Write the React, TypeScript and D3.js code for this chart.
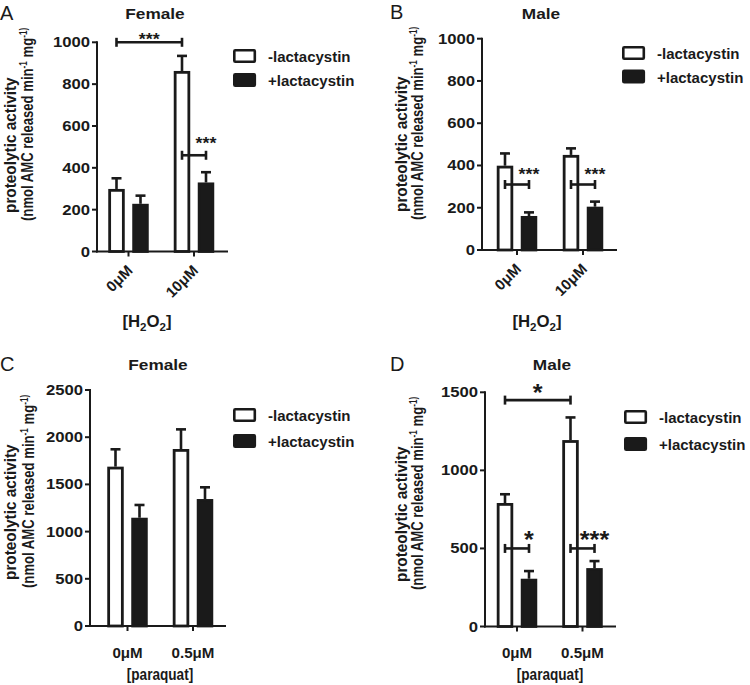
import React from "react";
import * as d3 from "d3";

// ---------- data ----------
const seriesNames = ["-lactacystin", "+lactacystin"];
const h2o2Categories = ["0μM", "10μM"];
const paraquatCategories = ["0μM", "0.5μM"];

const femaleH2O2Minus = [299, 863];
const femaleH2O2MinusErr = [51, 72];
const femaleH2O2Plus = [228, 330];
const femaleH2O2PlusErr = [39, 49];

const maleH2O2Minus = [399, 450];
const maleH2O2MinusErr = [58, 31];
const maleH2O2Plus = [161, 205];
const maleH2O2PlusErr = [17, 24];

const femaleParaquatMinus = [1688, 1875];
const femaleParaquatMinusErr = [184, 208];
const femaleParaquatPlus = [1147, 1345];
const femaleParaquatPlusErr = [135, 124];

const maleParaquatMinus = [791, 1194];
const maleParaquatMinusErr = [56, 145];
const maleParaquatPlus = [306, 374];
const maleParaquatPlusErr = [49, 45];

const ticksH2O2 = [0, 200, 400, 600, 800, 1000];
const ticksFemaleParaquat = [0, 500, 1000, 1500, 2000, 2500];
const ticksMaleParaquat = [0, 500, 1000, 1500];

// significance brackets: from (category c1, series s1) to (c2, s2) at value y
const sigFemaleH2O2 = [
  { c1: 0, s1: 0, c2: 1, s2: 0, y: 1000, label: "***", dy: 3 },
  { c1: 1, s1: 0, c2: 1, s2: 1, y: 460, label: "***", dy: -6 },
];
const sigMaleH2O2 = [
  { c1: 0, s1: 0, c2: 0, s2: 1, y: 310, label: "***", dy: -4 },
  { c1: 1, s1: 0, c2: 1, s2: 1, y: 310, label: "***", dy: -4 },
];
const sigFemaleParaquat: any[] = [];
const sigMaleParaquat = [
  { c1: 0, s1: 0, c2: 1, s2: 0, y: 1450, label: "*", dy: 1 },
  { c1: 0, s1: 0, c2: 0, s2: 1, y: 500, label: "*", dy: 0 },
  { c1: 1, s1: 0, c2: 1, s2: 1, y: 500, label: "***", dy: 0 },
];

// ---------- style ----------
const INK = "#1a1a1a";
const FONT = "'Liberation Sans', Arial, Helvetica, sans-serif";

function T({ x, y, size, sx = 1.15, anchor = "start", rotate = 0, weight = "bold", children }: any) {
  return (
    <text
      transform={`translate(${x},${y}) rotate(${rotate}) scale(${sx},1)`}
      fontSize={size}
      fontWeight={weight}
      textAnchor={anchor}
      fontFamily={FONT}
      fill={INK}
    >
      {children}
    </text>
  );
}

function Panel({ cfg, categories, minus, minusErr, plus, plusErr, ticks, sigs }: any) {
  const y = d3.scaleLinear().domain([0, cfg.yMax]).range([cfg.y0, cfg.yTop]);
  const x = d3.scalePoint<string>().domain(categories).range([cfg.cat0, cfg.cat1]);
  const off = d3.scalePoint<string>().domain(seriesNames).range([-12, 12]);
  const barW = 16.5;
  const sw = 2.8;
  const values = [minus, plus];
  const errs = [minusErr, plusErr];
  const cx = (c: number, s: number) => (x(categories[c]) as number) + (off(seriesNames[s]) as number);

  return (
    <g>
      <T x={cfg.letterX} y={cfg.letterY} size={20} sx={1} weight="normal">{cfg.letter}</T>
      <T x={cfg.titleX} y={cfg.titleY} size={15} anchor="middle">{cfg.title}</T>

      {/* y label */}
      <T x={cfg.yLab1X} y={cfg.yLabStart} size={16} sx={0.96} rotate={-90}>proteolytic activity</T>
      <T x={cfg.yLab2X} y={cfg.yLabStart + 8} size={16} sx={0.82} rotate={-90}>
        (nmol AMC released min
        <tspan dy={-6} fontSize={10}>-1</tspan>
        <tspan dy={6}> mg</tspan>
        <tspan dy={-6} fontSize={10}>-1)</tspan>
      </T>

      {/* bars */}
      {categories.map((cat: string, ci: number) =>
        seriesNames.map((sn, si) => {
          const v = values[si][ci];
          const e = errs[si][ci];
          const c = cx(ci, si);
          return (
            <g key={cat + sn}>
              <line x1={c} x2={c} y1={y(v)} y2={y(v + e)} stroke={INK} strokeWidth={2.6} />
              <line x1={c - 5} x2={c + 5} y1={y(v + e)} y2={y(v + e)} stroke={INK} strokeWidth={2.6} />
              <rect
                x={c - barW / 2 + sw / 2}
                width={barW - sw}
                y={y(v) + sw / 2}
                height={cfg.y0 - y(v) - sw / 2}
                fill={si === 0 ? "#ffffff" : INK}
                stroke={INK}
                strokeWidth={sw}
              />
            </g>
          );
        })
      )}

      {/* axes */}
      <line x1={cfg.axisX} x2={cfg.axisX} y1={cfg.y0 + 1} y2={y(ticks[ticks.length - 1]) - 1} stroke={INK} strokeWidth={2} />
      {ticks.map((t: number) => (
        <g key={t}>
          <line x1={cfg.axisX - 5} x2={cfg.axisX} y1={y(t)} y2={y(t)} stroke={INK} strokeWidth={2} />
          <T x={cfg.axisX - 7} y={y(t) + 5} size={14.5} anchor="end">{String(t)}</T>
        </g>
      ))}
      <line x1={cfg.axisX - 1} x2={cfg.axisEnd} y1={cfg.y0} y2={cfg.y0} stroke={INK} strokeWidth={2} />
      {categories.map((cat: string) => (
        <g key={cat}>
          <line x1={x(cat)} x2={x(cat)} y1={cfg.y0} y2={cfg.y0 + 5} stroke={INK} strokeWidth={2} />
          {cfg.rotateLabels ? (
            <T x={(x(cat) as number) + 5} y={cfg.y0 + 20} size={15} sx={1} anchor="end" rotate={-45}>{cat}</T>
          ) : (
            <T x={x(cat)} y={cfg.catLabelY} size={14} sx={1.08} anchor="middle">{cat}</T>
          )}
        </g>
      ))}

      {/* x title */}
      {cfg.xTitle === "h2o2" ? (
        <T x={cfg.xTitleX} y={cfg.xTitleY} size={16} sx={1.05} anchor="middle">
          [H<tspan dy={4} fontSize={11}>2</tspan><tspan dy={-4}>O</tspan><tspan dy={4} fontSize={11}>2</tspan><tspan dy={-4}>]</tspan>
        </T>
      ) : (
        <T x={cfg.xTitleX} y={cfg.xTitleY} size={16} sx={0.85} anchor="middle">[paraquat]</T>
      )}

      {/* significance */}
      {sigs.map((s: any, i: number) => {
        const x1 = cx(s.c1, s.s1);
        const x2 = cx(s.c2, s.s2);
        const yy = y(s.y);
        const long = s.c1 !== s.c2;
        return (
          <g key={i}>
            <line x1={x1} x2={x2} y1={yy} y2={yy} stroke={INK} strokeWidth={2.6} />
            <line x1={x1} x2={x1} y1={yy - 4.5} y2={yy + 4.5} stroke={INK} strokeWidth={2.6} />
            <line x1={x2} x2={x2} y1={yy - 4.5} y2={yy + 4.5} stroke={INK} strokeWidth={2.6} />
            <T x={long ? (x1 + x2) / 2 : x2} y={yy + s.dy} size={cfg.starSize} sx={1.05} anchor="middle">{s.label}</T>
          </g>
        );
      })}

      {/* legend */}
      {seriesNames.map((sn, i) => (
        <g key={sn}>
          <rect
            x={cfg.legendX + 1.3}
            y={cfg.legendY + i * cfg.legendGap + 1.3}
            width={20.5}
            height={11.5}
            fill={i === 0 ? "#ffffff" : INK}
            stroke={INK}
            strokeWidth={2.6}
            rx={1}
          />
          <T x={cfg.legendX + 35} y={cfg.legendY + i * cfg.legendGap + 13} size={15} sx={1.0}>{sn}</T>
        </g>
      ))}
    </g>
  );
}

const layoutA = {
  letter: "A", letterX: 0, letterY: 20, title: "Female", titleX: 155, titleY: 19,
  axisX: 97, axisEnd: 228, y0: 251.5, yTop: 42.3, yMax: 1000, cat0: 128.5, cat1: 194,
  rotateLabels: true, xTitle: "h2o2", xTitleX: 147, xTitleY: 327,
  yLab1X: 16, yLab2X: 33, yLabStart: 213, legendX: 233, legendY: 49, legendGap: 24, starSize: 17,
};
const layoutB = {
  letter: "B", letterX: 390, letterY: 19, title: "Male", titleX: 541, titleY: 19,
  axisX: 482, axisEnd: 617, y0: 250, yTop: 38.7, yMax: 1000, cat0: 517, cat1: 583,
  rotateLabels: true, xTitle: "h2o2", xTitleX: 537, xTitleY: 327,
  yLab1X: 407, yLab2X: 423, yLabStart: 212, legendX: 622, legendY: 46, legendGap: 23.5, starSize: 17,
};
const layoutC = {
  letter: "C", letterX: 0, letterY: 371, title: "Female", titleX: 158, titleY: 370,
  axisX: 90, axisEnd: 226, y0: 626, yTop: 390, yMax: 2500, cat0: 127.5, cat1: 193,
  rotateLabels: false, catLabelY: 658, xTitle: "paraquat", xTitleX: 160, xTitleY: 680,
  yLab1X: 16, yLab2X: 34, yLabStart: 580, legendX: 233, legendY: 408, legendGap: 26, starSize: 17,
};
const layoutD = {
  letter: "D", letterX: 390, letterY: 371, title: "Male", titleX: 552, titleY: 370,
  axisX: 485, axisEnd: 616, y0: 626.5, yTop: 392.3, yMax: 1500, cat0: 517, cat1: 582.5,
  rotateLabels: false, catLabelY: 658, xTitle: "paraquat", xTitleX: 550, xTitleY: 680,
  yLab1X: 407, yLab2X: 423, yLabStart: 582, legendX: 624, legendY: 410, legendGap: 27, starSize: 24,
};

export default function App() {
  return (
    <svg
      width={750}
      height={685}
      viewBox="0 0 750 685"
      style={{ position: "absolute", left: 0, top: 0, background: "#ffffff" }}
    >
      <rect x={0} y={0} width={750} height={685} fill="#ffffff" />
      <Panel cfg={layoutA} categories={h2o2Categories} minus={femaleH2O2Minus} minusErr={femaleH2O2MinusErr}
        plus={femaleH2O2Plus} plusErr={femaleH2O2PlusErr} ticks={ticksH2O2} sigs={sigFemaleH2O2} />
      <Panel cfg={layoutB} categories={h2o2Categories} minus={maleH2O2Minus} minusErr={maleH2O2MinusErr}
        plus={maleH2O2Plus} plusErr={maleH2O2PlusErr} ticks={ticksH2O2} sigs={sigMaleH2O2} />
      <Panel cfg={layoutC} categories={paraquatCategories} minus={femaleParaquatMinus} minusErr={femaleParaquatMinusErr}
        plus={femaleParaquatPlus} plusErr={femaleParaquatPlusErr} ticks={ticksFemaleParaquat} sigs={sigFemaleParaquat} />
      <Panel cfg={layoutD} categories={paraquatCategories} minus={maleParaquatMinus} minusErr={maleParaquatMinusErr}
        plus={maleParaquatPlus} plusErr={maleParaquatPlusErr} ticks={ticksMaleParaquat} sigs={sigMaleParaquat} />
    </svg>
  );
}
